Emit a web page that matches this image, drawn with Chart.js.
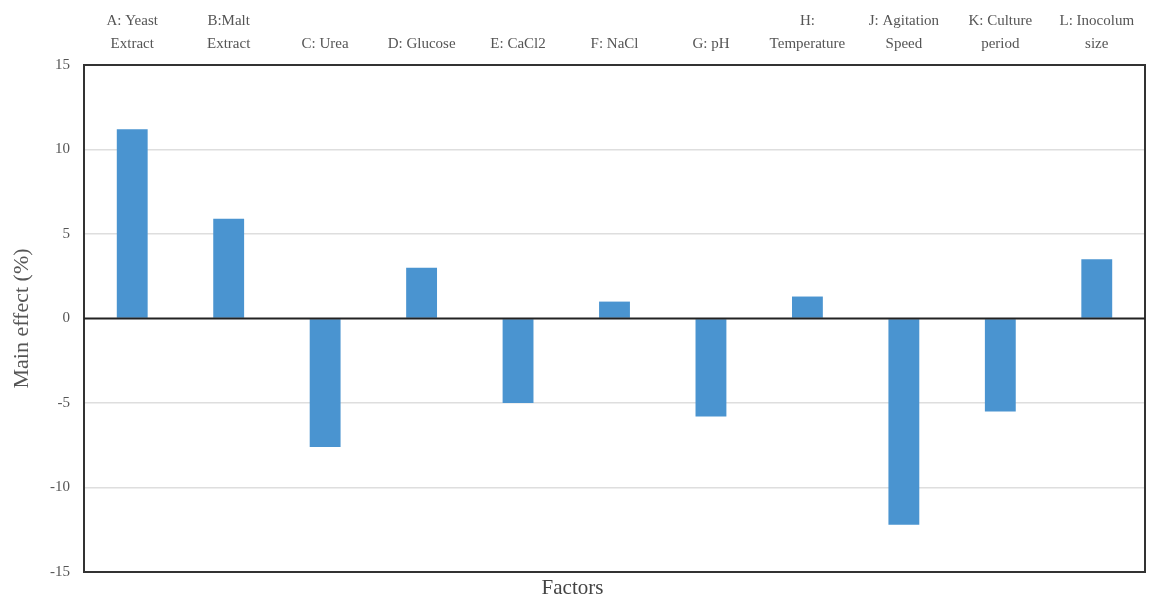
<!DOCTYPE html>
<html>
<head>
<meta charset="utf-8">
<script src="https://cdn.jsdelivr.net/npm/chart.js@4/dist/chart.umd.min.js"></script>
<style>
  html, body { margin: 0; padding: 0; background: #fff; }
  #wrap { width: 1156px; height: 601px; }
</style>
</head>
<body>
<div id="wrap"><canvas id="chart"></canvas></div>
<script>
// factor labels (shown on the top axis)
var factors = [
  ['A: Yeast', 'Extract'],
  ['B:Malt', 'Extract'],
  'C: Urea',
  'D: Glucose',
  'E: CaCl2',
  'F: NaCl',
  'G: pH',
  ['H:', 'Temperature'],
  ['J: Agitation', 'Speed'],
  ['K: Culture', 'period'],
  ['L: Inocolum', 'size']
];
var mainEffect = [11.2, 5.9, -7.6, 3.0, -5.0, 1.0, -5.8, 1.3, -12.2, -5.5, 3.5];
var yTicks = [-15, -10, -5, 0, 5, 10, 15];

var serif = '"Liberation Serif", "Times New Roman", serif';

var frameBox = {
  id: 'frameBox',
  afterDatasetsDraw: function (chart) {
    var a = chart.chartArea;
    var ctx = chart.ctx;
    ctx.save();
    ctx.strokeStyle = '#333';
    ctx.lineWidth = 2;
    ctx.strokeRect(a.left, a.top, a.right - a.left, a.bottom - a.top);
    // zero line over the bars
    var y0 = chart.scales.y.getPixelForValue(0);
    ctx.beginPath();
    ctx.moveTo(a.left, y0);
    ctx.lineTo(a.right, y0);
    ctx.strokeStyle = '#222';
    ctx.stroke();
    ctx.restore();
  }
};

new Chart(document.getElementById('chart').getContext('2d'), {
  type: 'bar',
  data: {
    labels: factors,
    datasets: [{
      data: mainEffect,
      backgroundColor: '#4a94d0',
      borderWidth: 0,
      barPercentage: 0.32,
      categoryPercentage: 1
    }]
  },
  options: {
    responsive: true,
    maintainAspectRatio: false,
    animation: false,
    layout: { padding: { left: 0, right: 11, top: 0, bottom: 0 } },
    plugins: {
      legend: { display: false },
      tooltip: { enabled: false },
      title: {
        display: true,
        position: 'bottom',
        text: 'Factors',
        color: '#444',
        font: { family: serif, size: 21, weight: 'normal', lineHeight: 1 },
        padding: { top: 6, bottom: 2 }
      }
    },
    scales: {
      x: {
        position: 'top',
        grid: { display: false },
        border: { display: false },
        ticks: {
          color: '#555',
          font: { family: serif, size: 15, lineHeight: 1.5 },
          maxRotation: 0,
          autoSkip: false,
          padding: 2
        },
        afterFit: function (scale) { scale.height = 65; }
      },
      y: {
        min: -15,
        max: 15,
        afterBuildTicks: function (scale) {
          scale.ticks = yTicks.map(function (v) { return { value: v }; });
        },
        grid: {
          color: function (c) {
            var v = c.tick && c.tick.value;
            return (v === 0 || v === 15 || v === -15) ? 'rgba(0,0,0,0)' : '#dedede';
          },
          lineWidth: 1.5,
          drawTicks: false
        },
        border: { display: false },
        ticks: {
          color: '#555',
          font: { family: serif, size: 15 },
          padding: 14
        },
        title: {
          display: true,
          text: 'Main effect (%)',
          color: '#555',
          font: { family: serif, size: 22, weight: 'normal' },
          padding: { top: 9, bottom: 4 }
        },
        afterFit: function (scale) { scale.width = 84; }
      }
    }
  },
  plugins: [frameBox]
});
</script>
</body>
</html>
